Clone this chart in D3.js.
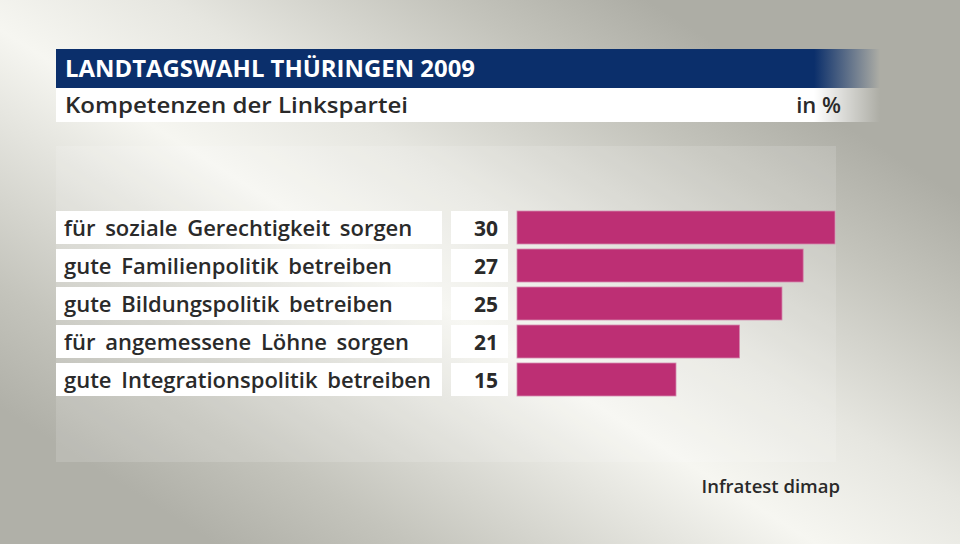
<!DOCTYPE html>
<html><head><meta charset="utf-8">
<script src="https://cdn.jsdelivr.net/npm/d3@7/dist/d3.min.js"></script>
<style>
html,body{margin:0;padding:0;background:#e6e6e0;}
svg{display:block;}
text{font-family:"Open Sans","Noto Sans",sans-serif;}
</style>
</head><body>
<script>
const categories = [
  "für soziale Gerechtigkeit sorgen",
  "gute Familienpolitik betreiben",
  "gute Bildungspolitik betreiben",
  "für angemessene Löhne sorgen",
  "gute Integrationspolitik betreiben"
];
const values = [30, 27, 25, 21, 15];
const valueLabels = ["30", "27", "25", "21", "15"];
const titleText = "LANDTAGSWAHL THÜRINGEN 2009";
const subtitleText = "Kompetenzen der Linkspartei";
const unitText = "in %";
const sourceText = "Infratest dimap";

const W = 960, H = 544;
const svg = d3.select("body").append("svg").attr("width", W).attr("height", H);
const defs = svg.append("defs");

// background gradient (dark bottom-left -> light band -> dark top-right)
const bg = defs.append("linearGradient").attr("id","bg")
  .attr("gradientUnits","userSpaceOnUse")
  .attr("x1",179).attr("y1",521).attr("x2",547).attr("y2",-63);
[[0,"#b0b0a8"],[0.15,"#c4c4bc"],[0.464,"#f6f6f1"],[0.63,"#e6e6e0"],[0.85,"#c3c3bb"],[1,"#adada5"]]
  .forEach(s=>bg.append("stop").attr("offset",s[0]).attr("stop-color",s[1]));
svg.append("rect").attr("width",W).attr("height",H).attr("fill","url(#bg)");

// title bar fades
function fade(id, color){
  const g = defs.append("linearGradient").attr("id",id).attr("x1",0).attr("y1",0).attr("x2",1).attr("y2",0);
  g.append("stop").attr("offset",0).attr("stop-color",color).attr("stop-opacity",1);
  g.append("stop").attr("offset",0.92).attr("stop-color",color).attr("stop-opacity",1);
  g.append("stop").attr("offset",1).attr("stop-color",color).attr("stop-opacity",0);
}
fade("tg","#0b2f6b");
fade("sg","#ffffff");

// faint panel
svg.append("rect").attr("x",56).attr("y",146).attr("width",780).attr("height",316)
  .attr("fill","#ffffff").attr("fill-opacity",0.14);

// title
svg.append("rect").attr("x",56).attr("y",49).attr("width",824).attr("height",39).attr("fill","url(#tg)");
svg.append("rect").attr("x",56).attr("y",88).attr("width",824).attr("height",34).attr("fill","url(#sg)");
svg.append("text").attr("x",65).attr("y",77).attr("fill","#ffffff")
  .attr("font-size",24).attr("font-weight",700)
  .attr("textLength",410).attr("lengthAdjust","spacingAndGlyphs")
  .text(titleText);
svg.append("text").attr("x",65).attr("y",113).attr("fill","#2a2a2a")
  .attr("font-size",22).attr("font-weight",600)
  .attr("textLength",343).attr("lengthAdjust","spacingAndGlyphs")
  .text(subtitleText);
svg.append("text").attr("x",841).attr("y",113).attr("fill","#2a2a2a")
  .attr("font-size",22).attr("font-weight",600).attr("text-anchor","end")
  .text(unitText);

// scales
const x = d3.scaleLinear().domain([0, 30]).range([517, 835]);
const y = d3.scaleBand().domain(categories).range([208.5, 398.5])
  .paddingInner(5/38).paddingOuter(5/76);

const rows = svg.append("g").selectAll("g").data(categories).join("g");
rows.append("rect").attr("x",56).attr("y",d=>y(d)).attr("width",386)
  .attr("height",y.bandwidth()).attr("fill","#ffffff");
rows.append("rect").attr("x",451).attr("y",d=>y(d)).attr("width",57)
  .attr("height",y.bandwidth()).attr("fill","#ffffff");
rows.append("text").attr("x",64).attr("y",d=>y(d)+y.bandwidth()/2+8)
  .attr("fill","#2a2a2a").attr("font-size",22).attr("font-weight",600)
  .attr("word-spacing",4)
  .text(d=>d);
rows.append("text").attr("x",498).attr("y",d=>y(d)+y.bandwidth()/2+8)
  .attr("text-anchor","end")
  .attr("fill","#2a2a2a").attr("font-size",21).attr("font-weight",700)
  .text((d,i)=>valueLabels[i]);
rows.append("rect").attr("x",x(0)).attr("y",d=>y(d))
  .attr("width",(d,i)=>x(values[i])-x(0)).attr("height",y.bandwidth())
  .attr("fill","#bd2f74").attr("stroke","#d58ab0").attr("stroke-width",0.8);

svg.append("text").attr("x",840).attr("y",493).attr("text-anchor","end")
  .attr("fill","#2a2a2a").attr("font-size",18.5).attr("font-weight",600)
  .text(sourceText);
</script>
</body></html>
